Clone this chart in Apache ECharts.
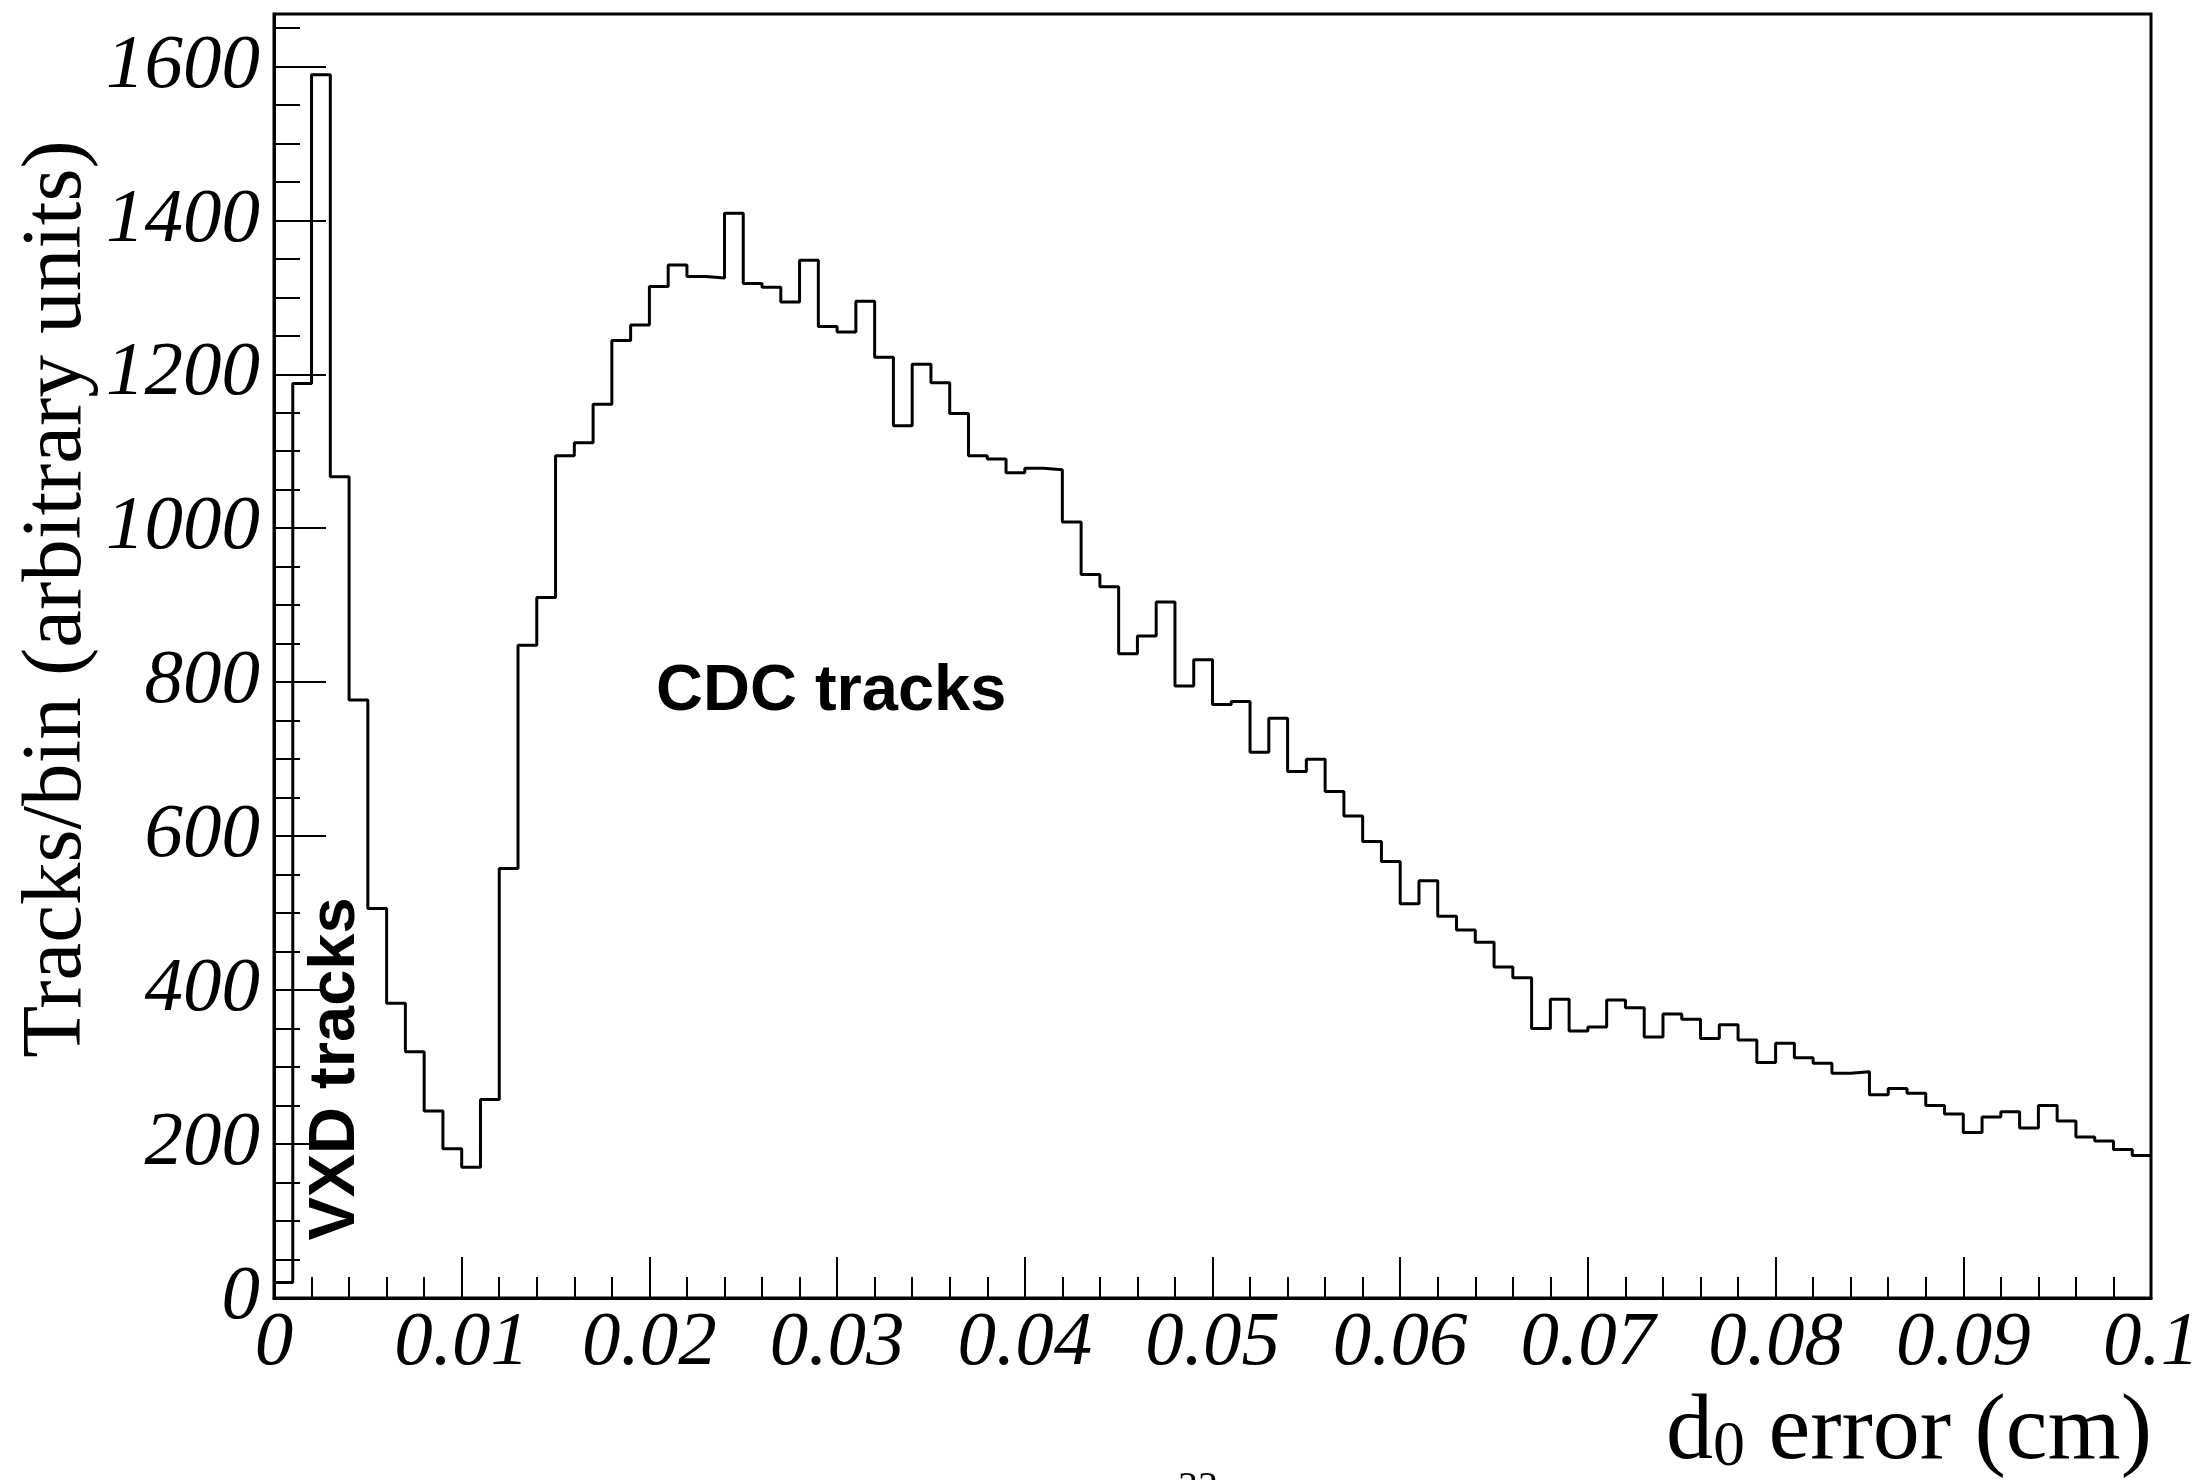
<!DOCTYPE html>
<html>
<head>
<meta charset="utf-8">
<title>d0 error</title>
<script src="https://cdn.jsdelivr.net/npm/echarts@6/dist/echarts.min.js"></script>
<style>
  html, body { margin: 0; padding: 0; background: #fff; }
  #chart { width: 2211px; height: 1480px; }
</style>
</head>
<body>
<div id="chart"></div>
<script>
// Histogram binning: 100 bins of 0.001 cm from 0 to 0.1 cm
const binLow = 0;
const binWidth = 0.001;

// Tracks per bin, bins 0..49 and 50..99
const countsLow = [
  20, 1188, 1589, 1067, 777, 506, 383, 320, 243, 194,
  170, 258, 558, 848, 910, 1094, 1111, 1161, 1244, 1264,
  1314, 1342, 1327, 1325, 1409, 1318, 1313, 1294, 1348, 1262,
  1255, 1295, 1222, 1133, 1213, 1189, 1149, 1094, 1090, 1072,
  1078, 1076, 1008, 940, 924, 837, 860, 904, 795, 829
];
const countsHigh = [
  771, 775, 709, 753, 684, 700, 658, 626, 593, 567,
  512, 542, 496, 478, 462, 430, 416, 350, 388, 347,
  352, 387, 377, 339, 369, 362, 337, 355, 335, 306,
  331, 312, 305, 292, 294, 264, 272, 266, 250, 239,
  215, 235, 242, 221, 250, 230, 209, 204, 193, 185
];

// Axis tick labels
const xTickLabels = ['0', '0.01', '0.02', '0.03', '0.04', '0.05', '0.06', '0.07', '0.08', '0.09', '0.1'];
const yTickLabels = ['0', '200', '400', '600', '800', '1000', '1200', '1400', '1600'];

// Text
const xTitleMain = 'd';
const xTitleSub = '0';
const xTitleRest = ' error (cm)';
const yTitle = 'Tracks/bin (arbitrary units)';
const cdcLabel = 'CDC tracks';
const vxdLabel = 'VXD tracks';
const pageNumber = '33';

const counts = countsLow.concat(countsHigh);
// Outline points at bin low edges, closed at the upper edge of the last bin
const outline = counts.map((c, i) => [binLow + i * binWidth, c]);
outline.push([binLow + counts.length * binWidth, counts[counts.length - 1]]);

const serif = "'Liberation Serif', 'DejaVu Serif', serif";
const sans = "'Liberation Sans', Arial, 'DejaVu Sans', sans-serif";
const yMax = 1668;

const tickLabelStyle = {
  color: '#000',
  fontFamily: serif,
  fontStyle: 'italic',
  fontSize: 77
};

const chart = echarts.init(document.getElementById('chart'), null, { renderer: 'canvas' });

chart.setOption({
  animation: false,
  backgroundColor: '#fff',
  grid: {
    left: 274, right: 60, top: 14, bottom: 182,
    show: true, borderColor: '#000', borderWidth: 3,
    backgroundColor: 'transparent',
    containLabel: false,
    outerBoundsMode: 'none'
  },
  xAxis: [
    {
      type: 'value', min: 0, max: 0.1, interval: 0.01, position: 'bottom',
      axisLine: { show: true, lineStyle: { color: '#000', width: 3 } },
      axisTick: { show: true, inside: true, length: 41, lineStyle: { color: '#000', width: 2 } },
      axisLabel: Object.assign({
        margin: 7,
        formatter: function (v) {
          const i = Math.round(v / 0.01);
          return Math.abs(v - i * 0.01) < 1e-9 ? xTickLabels[i] : '';
        }
      }, tickLabelStyle),
      splitLine: { show: false }
    },
    {
      type: 'value', min: 0, max: 0.1, interval: 0.002, position: 'bottom',
      axisLine: { show: false },
      axisTick: { show: true, inside: true, length: 21, lineStyle: { color: '#000', width: 2 } },
      axisLabel: { show: false },
      splitLine: { show: false }
    }
  ],
  yAxis: [
    {
      type: 'value', min: 0, max: yMax, interval: 200, position: 'left',
      axisLine: { show: true, lineStyle: { color: '#000', width: 3 } },
      axisTick: { show: true, inside: true, length: 52, lineStyle: { color: '#000', width: 2 } },
      axisLabel: Object.assign({
        margin: 14,
        showMaxLabel: false,
        formatter: function (v) {
          return v % 200 === 0 ? yTickLabels[v / 200] : '';
        }
      }, tickLabelStyle),
      splitLine: { show: false }
    },
    {
      type: 'value', min: 0, max: yMax, interval: 50, position: 'left',
      axisLine: { show: false },
      axisTick: { show: true, inside: true, length: 26, lineStyle: { color: '#000', width: 2 } },
      axisLabel: { show: false },
      splitLine: { show: false }
    }
  ],
  series: [
    {
      type: 'line',
      xAxisIndex: 0,
      yAxisIndex: 0,
      step: 'end',
      data: outline,
      showSymbol: false,
      symbol: 'none',
      lineStyle: { color: '#000', width: 3 },
      z: 5
    }
  ],
  graphic: [
    {
      type: 'text', x: 58, y: 599, rotation: Math.PI / 2,
      style: {
        text: yTitle, fill: '#000', font: '85px ' + serif,
        align: 'center', verticalAlign: 'middle'
      }
    },
    {
      type: 'text', x: 2152, y: 1433,
      style: {
        text: '{m|' + xTitleMain + '}{s|' + xTitleSub + '}{m|' + xTitleRest + '}',
        fill: '#000', align: 'right', verticalAlign: 'middle',
        rich: {
          m: { fontFamily: serif, fontSize: 94, lineHeight: 94, fill: '#000' },
          s: { fontFamily: serif, fontSize: 64, lineHeight: 42, verticalAlign: 'bottom', fill: '#000' }
        }
      }
    },
    {
      type: 'text', x: 656, y: 692,
      style: {
        text: cdcLabel, fill: '#000', font: 'bold 65px ' + sans,
        align: 'left', verticalAlign: 'middle'
      }
    },
    {
      type: 'text', x: 336, y: 1069, rotation: Math.PI / 2,
      style: {
        text: vxdLabel, fill: '#000', font: 'bold 65px ' + sans,
        align: 'center', verticalAlign: 'middle'
      }
    },
    {
      type: 'text', x: 1198, y: 1488,
      style: {
        text: pageNumber, fill: '#000', font: '40px ' + serif,
        align: 'center', verticalAlign: 'middle'
      }
    }
  ]
});
</script>
</body>
</html>
